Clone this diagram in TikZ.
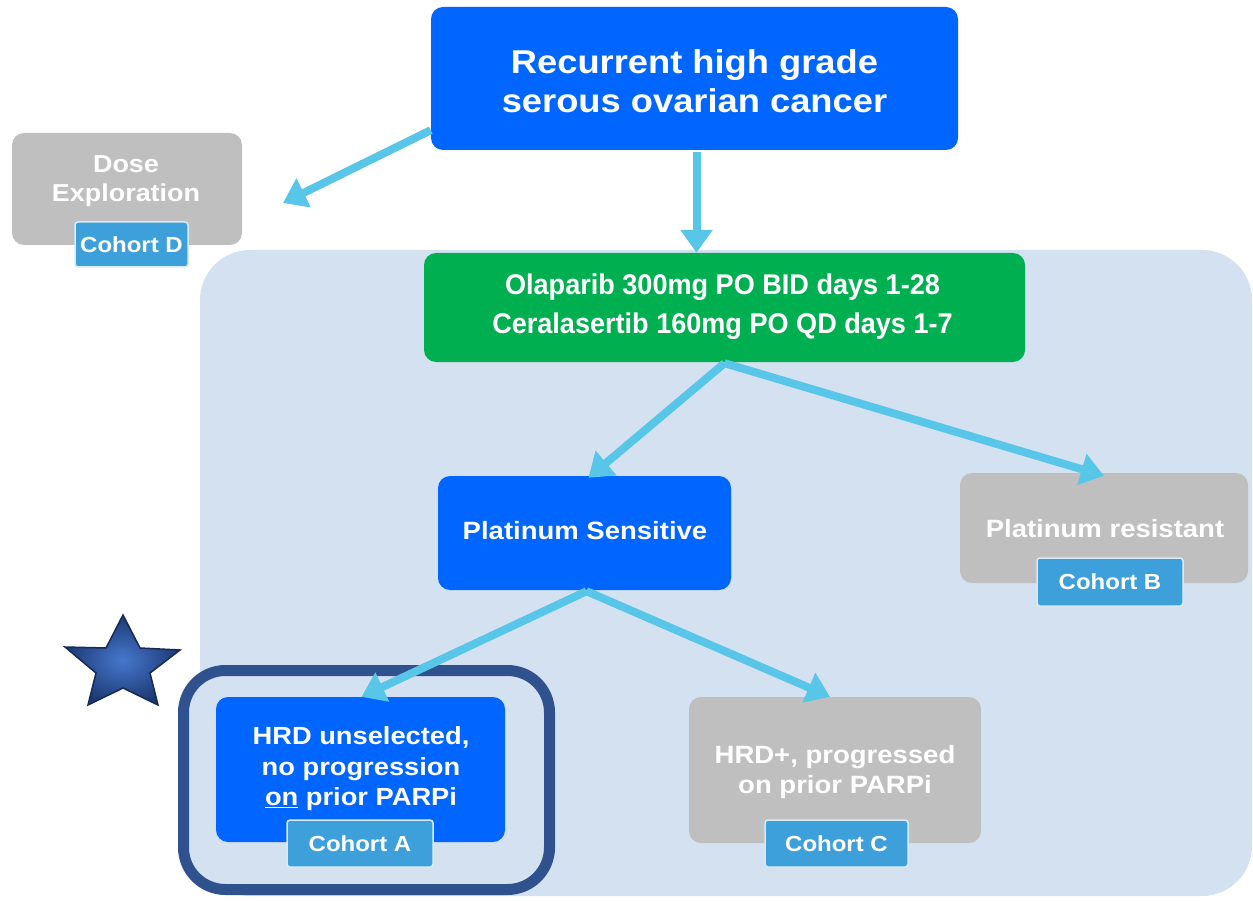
\documentclass[tikz,border=0pt]{standalone}
\usepackage{fontspec}
\setmainfont{Liberation Sans}[FakeStretch=1.1]
\newfontfamily\narrowfont{Liberation Sans}[FakeStretch=0.95]
\usetikzlibrary{arrows.meta}
\definecolor{topblue}{RGB}{0,102,255}
\definecolor{boxgray}{RGB}{191,191,191}
\definecolor{greenbox}{RGB}{0,176,80}
\definecolor{cohortblue}{RGB}{62,160,218}
\definecolor{arrowblue}{RGB}{88,198,232}
\definecolor{panel}{RGB}{212,225,241}
\definecolor{frameblue}{RGB}{47,82,143}
\definecolor{starin}{RGB}{70,120,205}
\definecolor{starout}{RGB}{28,56,115}
\definecolor{starline}{RGB}{22,42,85}
\begin{document}
\begin{tikzpicture}[x=1pt,y=-1pt,
  box/.style={rectangle, rounded corners=12pt, inner sep=0pt},
  bluebox/.style={box, fill=topblue},
  graybox/.style={box, fill=boxgray},
  cohort/.style={rectangle, rounded corners=3pt, fill=cohortblue, draw=white!80!cohortblue, line width=1.5pt, text=white, font=\fontsize{21.8}{25}\selectfont\bfseries, inner sep=0pt},
  lbl/.style={text=white, align=center, inner sep=0pt},
  arr/.style={draw=arrowblue, line width=8pt, -{Triangle[width=31pt,length=23pt]}},
]
\useasboundingbox (0,0) rectangle (1253,901);
% background panel
\fill[panel, rounded corners=50pt] (200,250) rectangle (1252,896);
% frame around cohort A
\node[draw=frameblue, fill=panel, line width=11pt, rounded corners=42pt, minimum width=366pt, minimum height=219pt, inner sep=0pt] (frameA) at (366.5,780) {};
% boxes
\node[bluebox, minimum width=527pt, minimum height=143pt] (top) at (694.5,78.5) {};
\node[graybox, minimum width=230pt, minimum height=112pt] (dose) at (127,189) {};
\node[box, fill=greenbox, minimum width=601pt, minimum height=109pt] (green) at (724.5,307.5) {};
\node[bluebox, minimum width=293pt, minimum height=114pt] (psens) at (584.5,533) {};
\node[graybox, minimum width=288pt, minimum height=110pt] (pres) at (1104,528) {};
\node[bluebox, minimum width=289pt, minimum height=145pt] (hrdA) at (360.5,769.5) {};
\node[graybox, minimum width=292pt, minimum height=146pt] (hrdC) at (835,770) {};
% texts
\node[lbl, font=\fontsize{33}{38.5}\selectfont\bfseries] (toptext) at (694.5,81) {Recurrent high grade\\serous ovarian cancer};
\node[lbl, font=\fontsize{24.5}{29.5}\selectfont\bfseries] (dosetext) at (126,181) {Dose\\Exploration};
\node[lbl, font=\fontsize{28.5}{39}\selectfont\narrowfont\bfseries] (greentext) at (722.5,307) {Olaparib 300mg PO BID days 1-28\\Ceralasertib 160mg PO QD days 1-7};
\node[lbl, font=\fontsize{25}{29}\selectfont\bfseries] (psenstext) at (585,531) {Platinum Sensitive};
\node[lbl, font=\fontsize{25}{29}\selectfont\bfseries] (prestext) at (1105,529) {Platinum resistant};
\node[lbl, font=\fontsize{24.8}{30.5}\selectfont\bfseries] (hrdAtext) at (361,769) {HRD unselected,\\no progression\\\underline{on} prior PARPi};
\node[lbl, font=\fontsize{25}{30.5}\selectfont\bfseries] (hrdCtext) at (835,772) {HRD+, progressed\\on prior PARPi};
% cohort labels
\node[cohort, minimum width=113pt, minimum height=45pt] (cohD) at (131.5,244.5) {Cohort D};
\node[cohort, minimum width=146pt, minimum height=48pt] (cohB) at (1110,582) {Cohort B};
\node[cohort, minimum width=146pt, minimum height=47pt] (cohA) at (360,843.5) {Cohort A};
\node[cohort, minimum width=143pt, minimum height=47pt] (cohC) at (836.5,843.5) {Cohort C};
% arrows
\coordinate (doseend) at (283,203);
\draw[arr] ([yshift=20pt]top.south west) -- (doseend);
\draw[arr] ([xshift=2pt,yshift=-2pt]top.south) -- ([xshift=2pt]top.south |- green.north);
\draw[arr] ([yshift=-1pt]green.south) -- ([xshift=4pt,yshift=-2pt]psens.north);
\draw[arr] ([yshift=-1pt]green.south) -- ([yshift=-3pt]pres.north);
\draw[arr] ([xshift=2pt,yshift=-1pt]psens.south) -- ([xshift=1pt]hrdA.north);
\draw[arr] ([xshift=2pt,yshift=-1pt]psens.south) -- ([xshift=-5pt]hrdC.north);
% star
\shadedraw[inner color=starin, outer color=starout, draw=starline, line width=1.5pt, line join=miter]
  (123,615) -- (140,648) -- (180,650) -- (150,673) -- (158,705) -- (123,688)
  -- (88,705) -- (96,673) -- (65,647) -- (106,648) -- cycle;
\end{tikzpicture}
\end{document}
